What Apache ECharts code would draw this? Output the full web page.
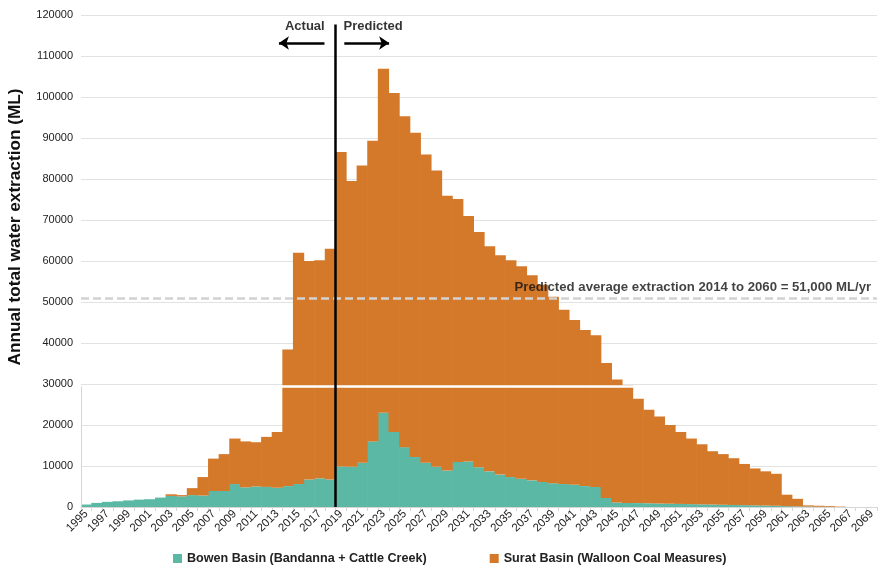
<!DOCTYPE html>
<html><head><meta charset="utf-8">
<script src="https://cdn.jsdelivr.net/npm/echarts@6/dist/echarts.min.js"></script>
<style>html,body{margin:0;padding:0;background:#fff}#c{width:878px;height:575px}</style>
</head><body><div id="c"></div>
<script>
// ---- data ----
const years = ['1995','1996','1997','1998','1999','2000','2001','2002','2003','2004',
  '2005','2006','2007','2008','2009','2010','2011','2012','2013','2014',
  '2015','2016','2017','2018','2019','2020','2021','2022','2023','2024',
  '2025','2026','2027','2028','2029','2030','2031','2032','2033','2034',
  '2035','2036','2037','2038','2039','2040','2041','2042','2043','2044',
  '2045','2046','2047','2048','2049','2050','2051','2052','2053','2054',
  '2055','2056','2057','2058','2059','2060','2061','2062','2063','2064',
  '2065','2066','2067','2068','2069'];
const bowen = [600,1000,1250,1400,1600,1800,1900,2300,2700,2600,
  2900,2800,3900,3900,5600,4800,5000,4900,4700,5100,
  5600,6700,7000,6700,9900,9800,10800,16000,23000,18300,
  14600,12200,10800,9800,8900,11000,11100,9700,8700,7900,
  7300,6900,6500,6100,5800,5600,5400,5100,4900,2200,
  1100,1000,950,900,850,800,750,700,650,600,
  550,500,450,400,350,300,200,150,100,50,
  0,0,0,0,0];
const surat = [0,0,0,0,0,0,0,0,400,300,
  1700,4500,7900,9000,11100,11200,10800,12200,13600,33300,
  56400,53300,53200,56300,76700,69700,72500,73300,83900,82700,
  80700,79100,75200,72300,67000,64100,59900,57400,54900,53500,
  52900,51800,50000,48100,45500,42500,40200,38100,37000,32900,
  30000,28700,25450,22800,21250,19200,17550,16000,14650,13000,
  12350,11400,10050,9000,8350,7800,2800,1850,300,250,
  200,100,0,0,0];
const seriesNames = ['Bowen Basin (Bandanna + Cattle Creek)', 'Surat Basin (Walloon Coal Measures)'];
const avgExtraction = 51000;
const avgLabel = 'Predicted average extraction 2014 to 2060 = 51,000 ML/yr';
const splitYear = 2018.5;
const yTitle = 'Annual total water extraction (ML)';

// ---- chart ----
const FONT = "'Liberation Sans', Arial, Helvetica, sans-serif";
const TEAL = '#5bb8a5';
const ORANGE = '#d4792a';
const chart = echarts.init(document.getElementById('c'));
const option = {
  animation: false,
  backgroundColor: '#fff',
  grid: {left: 81, right: -3, top: 15, bottom: 68},
  legend: {
    data: seriesNames, left: 168, top: 547, icon: 'rect',
    itemWidth: 9, itemHeight: 9, itemGap: 63,
    textStyle: {fontFamily: FONT, fontSize: 12.6, fontWeight: 'bold', color: '#222'}
  },
  graphic: [{
    type: 'text', x: 15, y: 227, rotation: Math.PI / 2,
    style: {text: yTitle, fontFamily: FONT, fontSize: 17.2, fontWeight: 'bold', fill: '#111',
      align: 'center', verticalAlign: 'middle'}
  }],
  xAxis: [{
    type: 'category', data: years,
    axisLine: {lineStyle: {color: '#d6d6d6'}},
    axisTick: {show: true, interval: 0, length: 4, lineStyle: {color: '#d6d6d6'}},
    axisLabel: {interval: 1, rotate: 45, fontSize: 11.5, color: '#222', fontFamily: FONT, margin: 5}
  }, {
    type: 'value', min: 1994.5, max: 2069.5, show: false
  }],
  yAxis: {
    type: 'value', min: 0, max: 120000, interval: 10000,
    axisLine: {show: false}, axisTick: {show: false},
    splitLine: {lineStyle: {color: '#e2e2e2', width: 1}},
    axisLabel: {fontSize: 11, color: '#222', fontFamily: FONT, margin: 8,
      formatter: function (v) { return String(v); }}
  },
  series: [{
    name: seriesNames[0], type: 'bar', stack: 'total', data: bowen,
    barWidth: '106%',
    itemStyle: {color: TEAL}
  }, {
    name: seriesNames[1], type: 'bar', stack: 'total', data: surat,
    barWidth: '106%',
    itemStyle: {color: ORANGE}
  }, {
    type: 'scatter', xAxisIndex: 1, yAxisIndex: 0, z: 10, silent: true,
    symbolSize: 1, itemStyle: {color: 'rgba(0,0,0,0)'},
    label: {show: true, fontFamily: FONT, fontWeight: 'bold', color: '#000', fontSize: 13, position: 'inside'},
    data: [
      {value: [2015.59, 117240], label: {formatter: 'Actual'}},
      {value: [2022.03, 117240], label: {formatter: 'Predicted'}},
      {value: [2069.0, 53660], label: {formatter: avgLabel, position: 'left', distance: 0, fontSize: 13.2, color: '#111'}}
    ],
    markLine: {
      silent: true, symbol: ['none', 'none'], animation: false,
      label: {show: false},
      data: [
        [{coord: [1994.5, 29400], lineStyle: {color: '#ffffff', width: 2.5, type: 'solid'}}, {coord: [2069.5, 29400]}],
        [{coord: [1994.5, 0], lineStyle: {color: '#d6d6d6', width: 1, type: 'solid'}}, {coord: [1994.5, 29400]}],
        [{coord: [1994.5, avgExtraction], lineStyle: {color: '#d2d2d2', width: 2.5, type: [8, 4]}}, {coord: [2069.5, avgExtraction]}],
        [{coord: [splitYear, 0], lineStyle: {color: '#000', width: 2.5, type: 'solid'}}, {coord: [splitYear, 117700]}],
        [{coord: [2017.44, 113170], lineStyle: {color: '#000', width: 2.5, type: 'solid'}}, {coord: [2013.15, 113170], symbol: 'arrow', symbolSize: [10, 10]}],
        [{coord: [2019.31, 113170], lineStyle: {color: '#000', width: 2.5, type: 'solid'}}, {coord: [2023.53, 113170], symbol: 'arrow', symbolSize: [10, 10]}]
      ]
    }
  }]
};
chart.setOption(option);
</script>
</body></html>
